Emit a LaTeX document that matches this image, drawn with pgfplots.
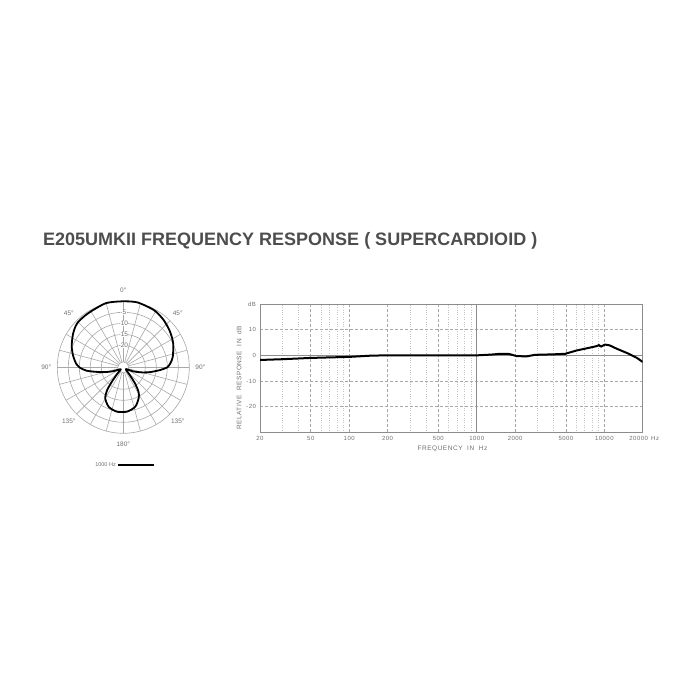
\documentclass[border=0pt]{standalone}
\usepackage{fontspec}
\setmainfont{Liberation Sans}
\newfontfamily\spaced[LetterSpace=8]{Liberation Sans}
\usepackage{pgfplots}
\usepackage{pgfplotstable}
\pgfplotsset{compat=1.18}
\definecolor{txtgray}{HTML}{707070}
\definecolor{gridgray}{HTML}{A8A8A8}
\definecolor{boxgray}{HTML}{8C8C8C}
\definecolor{titlegray}{HTML}{4D4D4D}

% frequency response, Hz vs dB
\pgfplotstableread{
f db
20 -1.8
30 -1.5
50 -1.0
70 -0.8
100 -0.6
150 -0.1
200 0
500 0
1000 0
1300 0.3
1520 0.6
1770 0.6
2060 -0.3
2460 -0.4
2860 0.2
4000 0.4
4930 0.6
6070 1.9
7700 3.0
8700 3.6
9100 4.0
9400 3.4
10100 4.2
11000 3.9
12500 2.6
15400 0.7
17900 -0.9
19000 -1.8
20000 -2.6
}\freqdata

% polar pattern at 1000 Hz, angle clockwise from 0 deg, level in dB
\pgfplotstableread{
ang db
0 0
12 0.2
28 -0.5
40 -1.7
52 -3.2
64 -4.8
78 -7.0
85 -8.5
90 -10
94 -13
100 -17.5
105 -21
112 -25
122 -28.5
132 -28.5
140 -25.5
144 -21
148 -17
153 -14.5
163 -11.3
175 -9.8
188 -9.6
200 -10.8
210 -13.6
215 -17
218 -21
222 -25.5
230 -28.5
240 -28
250 -24.5
256 -21
261 -17
265 -13
270 -10
274 -8.6
282 -6.8
292 -4.7
304 -2.5
314 -1.0
327 -0.7
345 0.2
360 0
}\polardata

\begin{document}
\begin{tikzpicture}[x=1pt,y=1pt]
\useasboundingbox (0,0) rectangle (700,700);

\node[anchor=base west, font=\bfseries\fontsize{18}{20}\selectfont, text=titlegray, inner sep=0]
  at (43,454.5) {E205UMKII FREQUENCY RESPONSE ( SUPERCARDIOID )};

% polar grid
\begin{scope}[shift={(123.3,332.7)}, gridgray, line width=0.6pt]
  \foreach \r in {66,55,44,33,22} \draw (0,0) circle[radius=\r];
  \draw (0,0) circle[radius=5.5];
  \foreach \a in {0,15,...,345} \draw (\a:5.5) -- (\a:66);
  \foreach \r/\t in {55/-5,44/-10,33/-15,22/-20}
    \node[fill=white, inner sep=0.4pt, text=txtgray, font=\fontsize{6.5}{7}\selectfont] at (0,\r) {\t};
  \foreach \a/\t in {90/0,135/45,45/45,180/90,0/90,225/135,-45/135,270/180}
    \node[text=txtgray, font=\fontsize{6.5}{7}\selectfont] at (\a:77) {\t°};
\end{scope}

\begin{axis}[at={(123.3pt,332.7pt)}, anchor=center, scale only axis,
  width=132pt, height=132pt, xmin=-30, xmax=30, ymin=-30, ymax=30,
  hide axis, clip=false]
\addplot[black, line width=1.8pt, smooth, tension=0.45, line join=round]
  table[x expr={(\thisrow{db}+30)*sin(\thisrow{ang})},
        y expr={(\thisrow{db}+30)*cos(\thisrow{ang})}]{\polardata};
\end{axis}

% legend of the polar plot
\node[text=txtgray, font=\fontsize{5.5}{6}\selectfont, anchor=east, inner sep=0] at (116,235) {1000 Hz};
\draw[black, line width=2pt] (118,234.8) -- (154,234.8);

% frequency response
\begin{axis}[at={(260pt,267.6pt)}, anchor=south west, scale only axis,
  width=382.7pt, height=128.4pt,
  xmode=log, xmin=20, xmax=20000, ymin=-30, ymax=20,
  xtick={20,50,100,200,500,1000,2000,5000,10000,20000},
  xticklabels={20,50,100,200,500,1000,2000,5000,10000,\hspace*{-8pt}20000},
  minor xtick={30,40,60,70,80,90,300,400,600,700,800,900,3000,4000,6000,7000,8000,9000},
  ytick={-20,-10,0,10,20}, yticklabels={-20,-10,0,10,dB},
  major tick length=0, minor tick length=0,
  grid=both,
  major grid style={gridgray, densely dashed, line width=0.6pt},
  minor grid style={gridgray!70, dotted, line width=0.5pt},
  axis line style={boxgray, line width=0.9pt},
  tick label style={font=\spaced\fontsize{6}{7}\selectfont, text=txtgray},
  xticklabel style={yshift=-0.5pt},
  yticklabel style={xshift=-0.5pt},
]
\draw[boxgray, line width=0.9pt] (axis cs:20,0) -- (axis cs:20000,0);
\draw[boxgray, line width=0.9pt] (axis cs:1000,-30) -- (axis cs:1000,20);
\addplot[black, line width=2pt, line join=round] table[x=f, y=db]{\freqdata};
\end{axis}

\node[text=txtgray, font=\spaced\fontsize{6}{7}\selectfont, anchor=west, inner sep=0] at (651,262) {Hz};
\node[text=txtgray, font=\spaced\fontsize{6.5}{7}\selectfont] at (452.5,251) {FREQUENCY\ \ IN\ \ Hz};
\node[text=txtgray, font=\spaced\fontsize{6.5}{7}\selectfont, rotate=90] at (239,322) {RELATIVE\ \ RESPONSE\ \ IN\ \ dB};
\end{tikzpicture}
\end{document}
